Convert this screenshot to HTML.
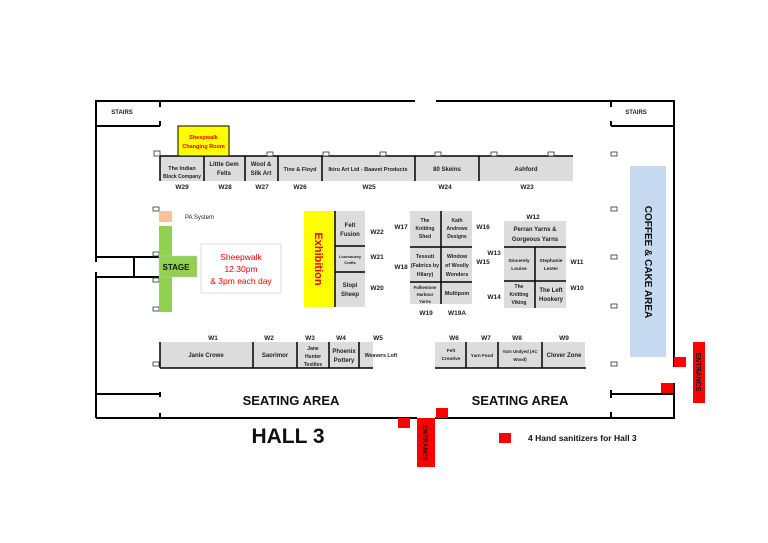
<!DOCTYPE html>
<html><head><style>
body{margin:0;background:#fff}
svg{display:block;font-family:"Liberation Sans",sans-serif}
.s{fill:#dcdcdc;stroke:none}
.t{font-size:6px;font-weight:bold;fill:#222;text-anchor:middle}
.w{font-size:6.5px;font-weight:bold;fill:#222;text-anchor:middle}
.o{fill:#fff;stroke:#333;stroke-width:.8}
</style></head><body>
<svg width="768" height="543" viewBox="0 0 768 543">
<g stroke="#000" stroke-width="2" fill="none">
<polyline points="96,126 96,101 415,101"/>
<line x1="436" y1="101" x2="675" y2="101"/>
<line x1="96" y1="126" x2="160" y2="126"/><line x1="160" y1="101" x2="160" y2="107"/><line x1="160" y1="121" x2="160" y2="126"/>
<line x1="611" y1="126" x2="674" y2="126"/><line x1="611" y1="101" x2="611" y2="107"/><line x1="611" y1="121" x2="611" y2="126"/>
<line x1="96" y1="126" x2="96" y2="262"/><line x1="96" y1="272" x2="96" y2="418"/>
<line x1="96" y1="257" x2="160" y2="257"/><line x1="96" y1="277" x2="160" y2="277"/><line x1="134" y1="257" x2="134" y2="277"/>
<line x1="674" y1="101" x2="674" y2="367"/><line x1="674" y1="383" x2="674" y2="418"/>
<line x1="96" y1="394" x2="160" y2="394"/><line x1="160" y1="392" x2="160" y2="397"/><line x1="160" y1="413" x2="160" y2="418"/>
<line x1="611" y1="394" x2="674" y2="394"/><line x1="611" y1="390" x2="611" y2="398"/><line x1="611" y1="412" x2="611" y2="418"/>
<line x1="96" y1="418" x2="417" y2="418"/><line x1="435" y1="418" x2="675" y2="418"/>
</g>
<text x="122" y="114" class="t">STAIRS</text><text x="636" y="114" class="t">STAIRS</text>
<rect x="160" y="156" width="413" height="25" class="s"/>
<g stroke="#000" stroke-width="1.5"><line x1="160" y1="156" x2="573" y2="156"/>
<line x1="160" y1="156" x2="160" y2="181"/><line x1="204" y1="156" x2="204" y2="181"/><line x1="245" y1="156" x2="245" y2="181"/><line x1="278" y1="156" x2="278" y2="181"/><line x1="322" y1="156" x2="322" y2="181"/><line x1="415" y1="156" x2="415" y2="181"/><line x1="479" y1="156" x2="479" y2="181"/></g>
<rect x="178" y="126" width="51" height="30" fill="#ffff00" stroke="#000"/>
<text x="203.5" y="139" class="t" style="fill:#e00;font-size:5.5px">Sheepwalk</text><text x="203.5" y="148" class="t" style="fill:#e00;font-size:5.5px">Changing Room</text>
<text x="182" y="170" class="t" style="font-size:5.5px">The Indian</text><text x="182" y="178" class="t" style="font-size:5px">Block Company</text>
<text x="224" y="166" class="t">Little Gem</text><text x="224" y="175" class="t">Felts</text>
<text x="261" y="166" class="t">Wool &amp;</text><text x="261" y="175" class="t">Silk Art</text>
<text x="300" y="171" class="t" style="font-size:5.5px">Tine &amp; Floyd</text>
<text x="368" y="171" class="t" style="font-size:5.5px">Ikiru Art Ltd - Baavet Products</text>
<text x="447" y="171" class="t">80 Skeins</text><text x="526" y="171" class="t">Ashford</text>
<text x="182" y="189" class="w">W29</text><text x="225" y="189" class="w">W28</text><text x="262" y="189" class="w">W27</text><text x="300" y="189" class="w">W26</text><text x="369" y="189" class="w">W25</text><text x="445" y="189" class="w">W24</text><text x="527" y="189" class="w">W23</text>
<g class="o"><rect x="154" y="151" width="6" height="5"/><rect x="267" y="152" width="6" height="4"/><rect x="323" y="152" width="6" height="4"/><rect x="380" y="152" width="6" height="4"/><rect x="435" y="152" width="6" height="4"/><rect x="491" y="152" width="6" height="4"/><rect x="548" y="152" width="6" height="4"/><rect x="611" y="152" width="6" height="4"/>
<rect x="153" y="207" width="6" height="4"/><rect x="153" y="252" width="6" height="4"/><rect x="153" y="278" width="6" height="4"/><rect x="153" y="307" width="6" height="4"/>
<rect x="611" y="207" width="6" height="4"/><rect x="611" y="255" width="6" height="4"/><rect x="611" y="304" width="6" height="4"/><rect x="611" y="362" width="6" height="4"/><rect x="153" y="362" width="6" height="4"/></g>
<rect x="159" y="211" width="13" height="11" fill="#f8c39a"/>
<text x="185" y="219" style="font-size:6px;fill:#222">PA System</text>
<rect x="159" y="226" width="13" height="86" fill="#92d050"/>
<rect x="159" y="256" width="38" height="21" fill="#92d050" stroke="#ccc" stroke-width=".5"/>
<text x="176" y="270" style="font-size:8px;font-weight:bold;fill:#111" text-anchor="middle">STAGE</text>
<rect x="201" y="244" width="80" height="49" fill="#fff" stroke="#ddd"/>
<g style="font-size:8.5px;fill:#e00" text-anchor="middle"><text x="241" y="260">Sheepwalk</text><text x="241" y="272">12.30pm</text><text x="241" y="284">&amp; 3pm each day</text></g>
<rect x="304" y="211" width="31" height="96" fill="#ffff00"/>
<text transform="translate(315,259) rotate(90)" text-anchor="middle" style="font-size:11px;font-weight:bold;fill:#e00">Exhibition</text>
<rect x="335" y="211" width="30" height="96" class="s"/>
<g stroke="#000" stroke-width="1.5"><line x1="335" y1="211" x2="335" y2="307"/><line x1="335" y1="246" x2="365" y2="246"/><line x1="335" y1="272" x2="365" y2="272"/></g>
<text x="350" y="227" class="t">Felt</text><text x="350" y="236" class="t">Fusion</text>
<text x="350" y="258" class="t" style="font-size:4px">Loumouzey</text><text x="350" y="264" class="t" style="font-size:4px">Crafts</text>
<text x="350" y="287" class="t">Slopi</text><text x="350" y="296" class="t">Sheep</text>
<text x="377" y="234" class="w">W22</text><text x="377" y="259" class="w">W21</text><text x="377" y="290" class="w">W20</text>
<rect x="410" y="211" width="62" height="93" class="s"/>
<g stroke="#000" stroke-width="1.5"><line x1="441" y1="211" x2="441" y2="304"/><line x1="410" y1="247" x2="472" y2="247"/><line x1="410" y1="282" x2="472" y2="282"/></g>
<text x="425" y="222" class="t" style="font-size:5px">The</text><text x="425" y="230" class="t" style="font-size:5px">Knitting</text><text x="425" y="238" class="t" style="font-size:5px">Shed</text>
<text x="457" y="222" class="t" style="font-size:5px">Kath</text><text x="457" y="230" class="t" style="font-size:5px">Andrews</text><text x="457" y="238" class="t" style="font-size:5px">Designs</text>
<text x="425" y="258" class="t" style="font-size:5.3px">Tessuti</text><text x="425" y="267" class="t" style="font-size:5.3px">(Fabrics by</text><text x="425" y="276" class="t" style="font-size:5.3px">Hilary)</text>
<text x="457" y="258" class="t" style="font-size:5.3px">Window</text><text x="457" y="267" class="t" style="font-size:5.3px">of Woolly</text><text x="457" y="276" class="t" style="font-size:5.3px">Wonders</text>
<text x="425" y="289" class="t" style="font-size:4.3px">Folkestone</text><text x="425" y="296" class="t" style="font-size:4.3px">Harbour</text><text x="425" y="303" class="t" style="font-size:4.3px">Yarns</text>
<text x="457" y="295" class="t" style="font-size:5.5px">Multipom</text>
<text x="401" y="229" class="w">W17</text><text x="483" y="229" class="w">W16</text><text x="401" y="269" class="w">W18</text><text x="483" y="264" class="w">W15</text><text x="426" y="315" class="w">W19</text><text x="457" y="315" class="w">W19A</text>
<rect x="504" y="221" width="62" height="87" class="s"/>
<g stroke="#000" stroke-width="1.5"><line x1="504" y1="247" x2="566" y2="247"/><line x1="504" y1="281" x2="566" y2="281"/><line x1="535" y1="247" x2="535" y2="308"/></g>
<text x="533" y="219" class="w">W12</text>
<text x="535" y="231" class="t">Perran Yarns &amp;</text><text x="535" y="241" class="t">Gorgeous Yarns</text>
<text x="519" y="262" class="t" style="font-size:4.8px">Sincerely</text><text x="519" y="270" class="t" style="font-size:4.8px">Louise</text>
<text x="551" y="262" class="t" style="font-size:4.8px">Stephanie</text><text x="551" y="270" class="t" style="font-size:4.8px">Lester</text>
<text x="519" y="288" class="t" style="font-size:5px">The</text><text x="519" y="296" class="t" style="font-size:5px">Knitting</text><text x="519" y="304" class="t" style="font-size:5px">Viking</text>
<text x="551" y="292" class="t">The Left</text><text x="551" y="301" class="t">Hookery</text>
<text x="494" y="255" class="w">W13</text><text x="577" y="264" class="w">W11</text><text x="577" y="290" class="w">W10</text><text x="494" y="299" class="w">W14</text>
<rect x="630" y="166" width="36" height="191" fill="#c5d9f1"/>
<text transform="translate(645,262) rotate(90)" text-anchor="middle" style="font-size:10px;font-weight:bold;fill:#111">COFFEE &amp; CAKE AREA</text>
<rect x="160" y="342" width="213" height="26" class="s"/>
<rect x="435" y="342" width="150" height="26" class="s"/>
<g stroke="#000" stroke-width="1.5"><line x1="160" y1="368" x2="373" y2="368"/><line x1="160" y1="342" x2="160" y2="368"/><line x1="253" y1="342" x2="253" y2="368"/><line x1="297" y1="342" x2="297" y2="368"/><line x1="329" y1="342" x2="329" y2="368"/><line x1="359" y1="342" x2="359" y2="368"/>
<line x1="435" y1="368" x2="586" y2="368"/><line x1="466" y1="342" x2="466" y2="368"/><line x1="498" y1="342" x2="498" y2="368"/><line x1="542" y1="342" x2="542" y2="368"/></g>
<text x="213" y="340" class="w">W1</text><text x="269" y="340" class="w">W2</text><text x="310" y="340" class="w">W3</text><text x="341" y="340" class="w">W4</text><text x="378" y="340" class="w">W5</text>
<text x="454" y="340" class="w">W6</text><text x="486" y="340" class="w">W7</text><text x="517" y="340" class="w">W8</text><text x="564" y="340" class="w">W9</text>
<text x="206" y="357" class="t">Janie Crowe</text><text x="275" y="357" class="t">Saorimor</text>
<text x="313" y="350" class="t" style="font-size:5px">Jane</text><text x="313" y="358" class="t" style="font-size:5px">Hunter</text><text x="313" y="366" class="t" style="font-size:5px">Textiles</text>
<text x="344" y="353" class="t">Phoenix</text><text x="344" y="362" class="t">Pottery</text>
<text x="381" y="357" class="t" style="font-size:5.2px">Weavers Loft</text>
<text x="451" y="352" class="t" style="font-size:4.8px">Felt</text><text x="451" y="360" class="t" style="font-size:4.8px">Creative</text>
<text x="482" y="357" class="t" style="font-size:4.6px">Yarn Food</text>
<text x="520" y="353" class="t" style="font-size:4.3px">Yarn Undyed (AC</text><text x="520" y="361" class="t" style="font-size:4.3px">Wood)</text>
<text x="564" y="357" class="t">Clover Zone</text>
<text x="291" y="405" text-anchor="middle" style="font-size:13px;font-weight:bold;fill:#111">SEATING AREA</text>
<text x="520" y="405" text-anchor="middle" style="font-size:13px;font-weight:bold;fill:#111">SEATING AREA</text>
<text x="288" y="443" text-anchor="middle" style="font-size:21px;font-weight:bold;fill:#111">HALL 3</text>
<g fill="#ff0000"><rect x="398" y="418" width="12" height="10"/><rect x="436" y="408" width="12" height="10"/><rect x="674" y="357" width="12" height="10"/><rect x="661" y="383" width="12" height="10"/><rect x="499" y="433" width="12" height="10"/>
<rect x="417" y="418" width="18" height="49"/><rect x="693" y="342" width="12" height="61"/></g>
<text transform="translate(423,443) rotate(90)" text-anchor="middle" style="font-size:6.5px;font-weight:bold;fill:#111">ENTRANCE</text>
<text transform="translate(696,372) rotate(90)" text-anchor="middle" style="font-size:7px;font-weight:bold;fill:#111">ENTRANCE</text>
<text x="528" y="441" style="font-size:8.5px;font-weight:bold;fill:#111">4 Hand sanitizers for Hall 3</text>
</svg>
</body></html>
